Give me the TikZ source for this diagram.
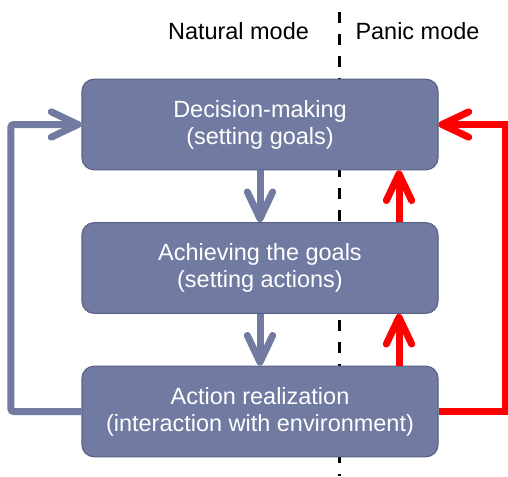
\documentclass[tikz,border=0pt]{standalone}
\usepackage{fontspec}
\setmainfont{Liberation Sans}
\usetikzlibrary{arrows.meta}

\definecolor{boxblue}{RGB}{113,122,161}
\definecolor{boxedge}{RGB}{88,96,133}

\begin{document}
\begin{tikzpicture}[x=0.75pt,y=-0.75pt,
		stage/.style={rectangle,rounded corners=9pt,fill=boxblue,draw=boxedge,line width=0.8pt,
			minimum width=267pt,minimum height=68pt,text=white,align=center,
			font=\fontsize{17.6}{20.3}\selectfont},
		flow/.style={line width=5.25pt,-{Straight Barb[length=20pt,width=19pt,round]}},
		modelabel/.style={anchor=base,font=\fontsize{17.6}{20.3}\selectfont}]
	\useasboundingbox (0,0) rectangle (508,476);

	% boundary between the two modes, behind the boxes
	\draw[line width=2.25pt,dash pattern=on 8.25pt off 8.25pt] (339,12) -- (339,476);
	\node[modelabel] (natural) at (238.5,39) {Natural mode};
	\node[modelabel] (panic) at (417.5,39) {Panic mode};

	\node[stage] (dec) at (260,124.5) {Decision-making\\(setting goals)};
	\node[stage] (goal) at (260,268) {Achieving the goals\\(setting actions)};
	\node[stage] (act) at (260,411.5) {Action realization\\(interaction with environment)};

	\coordinate (panicx) at (399,0);

	% natural mode: top down, feedback on the left
	\foreach \a/\b in {dec/goal, goal/act}{
		\draw[flow,boxblue] (\a.south) -- (\b.north);
	}
	\draw[flow,boxblue,rounded corners=2pt] (act.west) -- ++(-70.5,0) |- (dec.west);

	% panic mode: bottom up, feedback on the right
	\foreach \a/\b in {act/goal, goal/dec}{
		\draw[flow,red] (\a.north -| panicx) -- (\b.south -| panicx);
	}
	\draw[flow,red] (act.east) -- ++(66.5,0) |- (dec.east);
\end{tikzpicture}
\end{document}
